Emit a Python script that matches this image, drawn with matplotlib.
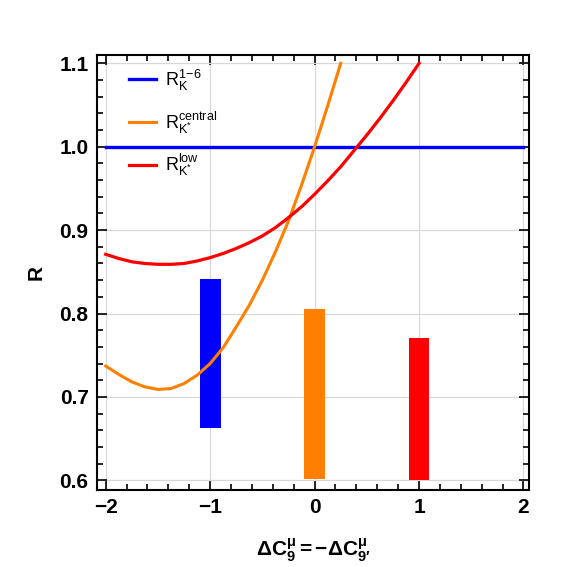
import matplotlib
matplotlib.use("Agg")
import matplotlib.pyplot as plt
from matplotlib.ticker import MultipleLocator

plt.rcParams['font.family'] = ['Liberation Sans', 'DejaVu Sans']
plt.rcParams['mathtext.fontset'] = 'custom'
plt.rcParams['mathtext.rm'] = 'Liberation Sans'
plt.rcParams['mathtext.it'] = 'Liberation Sans:italic'
plt.rcParams['mathtext.bf'] = 'Liberation Sans:bold'

# Data
x_orange = [-2.0, -1.875, -1.75, -1.625, -1.5, -1.375, -1.25, -1.125, -1.0, -0.875,
            -0.75, -0.625, -0.5, -0.375, -0.25, -0.125, 0.0, 0.125, 0.25]
y_orange = [0.737, 0.727, 0.718, 0.712, 0.709, 0.710, 0.716, 0.726, 0.740, 0.759,
            0.784, 0.810, 0.840, 0.874, 0.911, 0.954, 1.000, 1.049, 1.100]
x_red = [-2.0, -1.875, -1.75, -1.625, -1.5, -1.375, -1.25, -1.125, -1.0, -0.875,
         -0.75, -0.625, -0.5, -0.375, -0.25, -0.125, 0.0, 0.125, 0.25, 0.375,
         0.5, 0.625, 0.75, 0.875, 1.0]
y_red = [0.871, 0.866, 0.862, 0.860, 0.859, 0.859, 0.860, 0.863, 0.867, 0.872,
         0.878, 0.885, 0.893, 0.903, 0.915, 0.928, 0.943, 0.959, 0.976, 0.995,
         1.014, 1.034, 1.055, 1.077, 1.100]
x_blue = [-2.0, 2.0]
y_blue = [1.0, 1.0]

bar_x = [-1.0, 0.0, 1.0]
bar_low = [0.663, 0.601, 0.600]
bar_high = [0.841, 0.806, 0.771]
bar_colors = ['#0000ff', '#ff7f00', '#ff0000']

labels = [r'$\mathrm{R}_{\mathrm{K}}^{1\!-\!6}$',
          r'$\mathrm{R}_{\mathrm{K}^{*}}^{\mathrm{central}}$',
          r'$\mathrm{R}_{\mathrm{K}^{*}}^{\mathrm{low}}$']

fig = plt.figure(figsize=(5.63, 5.67), dpi=100)
ax = fig.add_axes([0.172, 0.136, 0.768, 0.767])

for xb, lo, hi, c in zip(bar_x, bar_low, bar_high, bar_colors):
    ax.bar(xb, hi - lo, bottom=lo, width=0.2, color=c, zorder=2)

ax.plot(x_blue, y_blue, color='#0000ff', lw=2.4, label=labels[0], zorder=3)
ax.plot(x_orange, y_orange, color='#ff7f00', lw=2.2, label=labels[1], zorder=3)
ax.plot(x_red, y_red, color='#ff0000', lw=2.3, label=labels[2], zorder=3)

ax.set_xlim(-2.085, 2.055)
ax.set_ylim(0.5885, 1.110)
ax.xaxis.set_minor_locator(MultipleLocator(0.2))
ax.yaxis.set_minor_locator(MultipleLocator(0.02))
ax.set_xticks([-2, -1, 0, 1, 2])
ax.set_xticklabels(['\u22122', '\u22121', '0', '1', '2'])
ax.set_yticks([0.6, 0.7, 0.8, 0.9, 1.0, 1.1])
ax.set_yticklabels(['0.6', '0.7', '0.8', '0.9', '1.0', '1.1'])

ax.tick_params(which='both', direction='in', top=True, right=True, width=1.2)
ax.tick_params(which='major', length=7, labelsize=15, pad=6)
ax.tick_params(which='minor', length=4)
for lab in ax.get_xticklabels() + ax.get_yticklabels():
    lab.set_fontweight('bold')
for sp in ax.spines.values():
    sp.set_linewidth(1.5)

ax.grid(True, which='major', color='#d8d8d8', lw=0.9, zorder=0)
ax.set_axisbelow(True)

ax.set_ylabel('R', fontsize=15, fontweight='bold', labelpad=10)
ax.set_xlabel(r'$\mathbf{\Delta C_{9}^{\mu}{=}{-}\Delta C_{9\prime}^{\mu}}$', fontsize=15, labelpad=14)

leg = ax.legend(loc='upper left', frameon=False, fontsize=13, handlelength=1.5,
                handletextpad=0.5, labelspacing=0.9, borderaxespad=0.3,
                bbox_to_anchor=(0.045, 1.0))

fig.savefig('out.png', dpi=100)
